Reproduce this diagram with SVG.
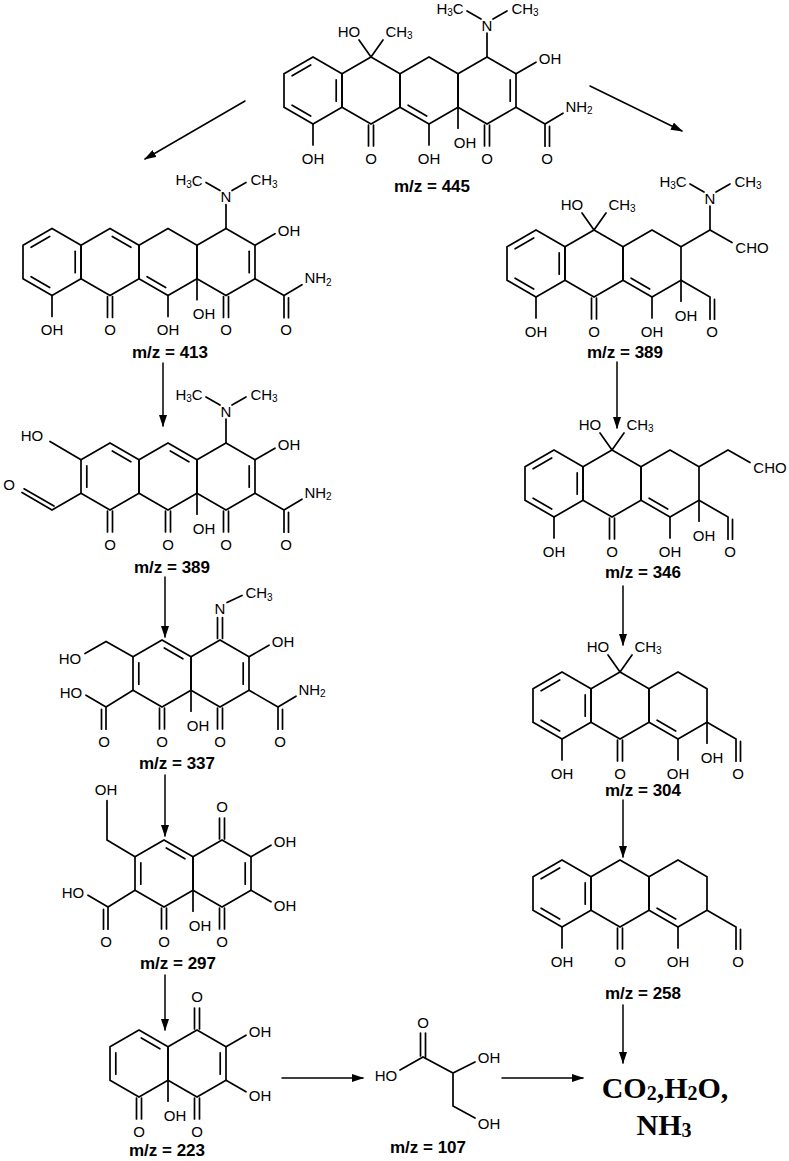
<svg xmlns="http://www.w3.org/2000/svg" xmlns:xlink="http://www.w3.org/1999/xlink" width="789" height="1161" viewBox="0 0 789 1161">
<style>
path,line{stroke:#000;stroke-width:1.7;fill:none;stroke-linecap:round}
text{font-family:"Liberation Sans",Arial,sans-serif;font-size:15px;text-anchor:middle;dominant-baseline:central;fill:#000}
.s{font-size:10px}
.mz{font-weight:bold;font-size:17px}
.big{font-family:"Liberation Serif","Times New Roman",serif;font-weight:bold;font-size:30px}
.ar{stroke-width:1.5}
</style>
<defs>
<marker id="ah" viewBox="0 0 12 8" refX="11" refY="4" markerWidth="12" markerHeight="8" markerUnits="userSpaceOnUse" orient="auto"><path d="M0,0L12,4L0,8Z" style="fill:#000;stroke:none"/></marker>
<path id="hx" d="M0,-33.5L29,-16.75L29,16.75L0,33.5L-29,16.75L-29,-16.75Z"/>
<path id="dUT" d="M-20.9,-14.7L-2.3,-25.5"/>
<path id="dTR" d="M2.3,-25.5L20.9,-14.7"/>
<path id="dR" d="M23.2,-10.7L23.2,10.7"/>
<path id="dBL" d="M-2.3,25.5L-20.9,14.7"/>
<path id="dL" d="M-23.2,10.7L-23.2,-10.7"/>
<g id="co"><path d="M-2.5,1V22M2.5,1V22"/><text y="34">O</text></g>
<g id="cou"><path d="M-2.5,-1V-22M2.5,-1V-22"/><text y="-34">O</text></g>
<g id="ohd"><path d="M0,0V21"/><text y="34">OH</text></g>
<g id="ohf"><path d="M0,0V21"/><text x="7" y="35">OH</text></g>
<g id="hoch3"><path d="M0,0L-12,-17M0,0L12,-17"/><text x="-22" y="-26">HO</text><text x="28" y="-26">CH<tspan class="s" dy="4">3</tspan></text></g>
<g id="nme2"><path d="M0,0V-24M-6,-38L-20,-46M6,-38L20,-46"/><text y="-32">N</text><text x="-37" y="-49">H<tspan class="s" dy="4">3</tspan><tspan dy="-4">C</tspan></text><text x="38" y="-49">CH<tspan class="s" dy="4">3</tspan></text></g>
<g id="ohur"><path d="M0,0L20,-11.5"/><text x="34" y="-15">OH</text></g>
<g id="ohdr"><path d="M0,0L20,11.5"/><text x="34" y="15">OH</text></g>
<g id="conh2"><path d="M0,0L29,16.75L47,6M29,16.75V39M33.5,19V39"/><text x="63" y="-1">NH<tspan class="s" dy="4">2</tspan></text><text x="31" y="51">O</text></g>
<g id="cooh"><path d="M0,0L-27,16.75L-47,5M-27,16.75V39M-31.5,19V39"/><text x="-62" y="2">HO</text><text x="-29" y="51">O</text></g>
<g id="cho"><path d="M0,0L29,16.75V39M33.5,19V39"/><text x="31" y="51">O</text></g>
<g id="qoh"><path d="M0,0V21"/><text x="5" y="35">OH</text></g>
</defs>

<g id="connectors">
<line class="ar" x1="245" y1="101" x2="145" y2="159" marker-end="url(#ah)"/>
<line class="ar" x1="590" y1="86" x2="682" y2="131" marker-end="url(#ah)"/>
<line class="ar" x1="163" y1="363" x2="163" y2="426" marker-end="url(#ah)"/>
<line class="ar" x1="165" y1="577" x2="165" y2="637" marker-end="url(#ah)"/>
<line class="ar" x1="165" y1="775" x2="165" y2="836" marker-end="url(#ah)"/>
<line class="ar" x1="165" y1="975" x2="165" y2="1030" marker-end="url(#ah)"/>
<line class="ar" x1="617" y1="362" x2="617" y2="428" marker-end="url(#ah)"/>
<line class="ar" x1="623" y1="586" x2="623" y2="645" marker-end="url(#ah)"/>
<line class="ar" x1="623" y1="800" x2="623" y2="857" marker-end="url(#ah)"/>
<line class="ar" x1="623" y1="1005" x2="623" y2="1063" marker-end="url(#ah)"/>
<line class="ar" x1="282" y1="1078" x2="363" y2="1078" marker-end="url(#ah)"/>
<line class="ar" x1="502" y1="1078" x2="583" y2="1078" marker-end="url(#ah)"/>
</g>

<g id="m445" transform="translate(313,90.5)">
<use href="#hx"/><use href="#hx" x="58"/><use href="#hx" x="116"/><use href="#hx" x="174"/>
<use href="#dUT"/><use href="#dR"/><use href="#dBL"/><use href="#dBL" x="116"/><use href="#dR" x="174"/>
<use href="#ohd" y="33.5"/><use href="#hoch3" x="58" y="-33.5"/><use href="#co" x="58" y="33.5"/><use href="#ohd" x="116" y="33.5"/>
<use href="#ohf" x="145" y="16.75"/><use href="#co" x="174" y="33.5"/><use href="#nme2" x="174" y="-33.5"/>
<use href="#ohur" x="203" y="-16.75"/><use href="#conh2" x="203" y="16.75"/>
</g>
<text class="mz" x="432" y="186">m/z = 445</text>

<g id="m413" transform="translate(52,262)">
<use href="#hx"/><use href="#hx" x="58"/><use href="#hx" x="116"/><use href="#hx" x="174"/>
<use href="#dUT"/><use href="#dR"/><use href="#dBL"/><use href="#dTR" x="58"/><use href="#dBL" x="116"/><use href="#dR" x="174"/>
<use href="#ohd" y="33.5"/><use href="#co" x="58" y="33.5"/><use href="#ohd" x="116" y="33.5"/>
<use href="#ohf" x="145" y="16.75"/><use href="#co" x="174" y="33.5"/><use href="#nme2" x="174" y="-33.5"/>
<use href="#ohur" x="203" y="-16.75"/><use href="#conh2" x="203" y="16.75"/>
</g>
<text class="mz" x="170" y="352">m/z = 413</text>

<g id="m389a" transform="translate(110,476.5)">
<use href="#hx"/><use href="#hx" x="58"/><use href="#hx" x="116"/>
<use href="#dTR"/><use href="#dL"/><use href="#dTR" x="58"/><use href="#dR" x="116"/>
<path d="M-29,-16.75L-60,-35M-29,16.75L-58,33.5L-88,16M-56,29.6L-86,12.3"/>
<text x="-78" y="-41">HO</text><text x="-101" y="8">O</text>
<use href="#co" y="33.5"/><use href="#co" x="58" y="33.5"/><use href="#ohf" x="87" y="16.75"/><use href="#co" x="116" y="33.5"/>
<use href="#nme2" x="116" y="-33.5"/><use href="#ohur" x="145" y="-16.75"/><use href="#conh2" x="145" y="16.75"/>
</g>
<text class="mz" x="172" y="567">m/z = 389</text>

<g id="m337" transform="translate(162,673.5)">
<use href="#hx"/><use href="#hx" x="58"/>
<use href="#dTR"/><use href="#dL"/><use href="#dR" x="58"/>
<path d="M55.5,-35V-56M60.5,-35V-56M65,-71L80,-78M-29,-16.75L-56,-32L-77,-20"/>
<text x="58" y="-65">N</text><text x="97" y="-81">CH<tspan class="s" dy="4">3</tspan></text><text x="-92" y="-15">HO</text>
<use href="#ohur" x="87" y="-16.75"/><use href="#conh2" x="87" y="16.75"/>
<use href="#cooh" x="-29" y="16.75"/><use href="#co" y="33.5"/><use href="#ohf" x="29" y="16.75"/><use href="#co" x="58" y="33.5"/>
</g>
<text class="mz" x="177" y="763">m/z = 337</text>

<g id="m297" transform="translate(164,873.5)">
<use href="#hx"/><use href="#hx" x="58"/>
<use href="#dTR"/><use href="#dL"/><use href="#dR" x="58"/>
<path d="M-29,-16.75L-57,-33.5V-73"/><text x="-58" y="-84">OH</text>
<use href="#cou" x="58" y="-33.5"/><use href="#ohur" x="87" y="-16.75"/><use href="#ohdr" x="87" y="16.75"/>
<use href="#cooh" x="-29" y="16.75"/><use href="#co" y="33.5"/><use href="#ohf" x="29" y="16.75"/><use href="#co" x="58" y="33.5"/>
</g>
<text class="mz" x="178" y="963">m/z = 297</text>

<g id="m223" transform="translate(139,1063.5)">
<use href="#hx"/><use href="#hx" x="58"/>
<use href="#dTR"/><use href="#dL"/><use href="#dR" x="58"/>
<use href="#co" y="33.5"/><use href="#ohf" x="29" y="16.75"/><use href="#co" x="58" y="33.5"/>
<use href="#cou" x="58" y="-33.5"/><use href="#ohur" x="87" y="-16.75"/><use href="#ohdr" x="87" y="16.75"/>
</g>
<text class="mz" x="167" y="1150">m/z = 223</text>

<g id="m389b" transform="translate(536,263.5)">
<use href="#hx"/><use href="#hx" x="58"/><use href="#hx" x="116"/>
<use href="#dUT"/><use href="#dR"/><use href="#dBL"/><use href="#dBL" x="116"/>
<use href="#ohd" y="33.5"/><use href="#hoch3" x="58" y="-33.5"/><use href="#co" x="58" y="33.5"/><use href="#ohd" x="116" y="33.5"/>
<use href="#qoh" x="145" y="16.75"/><use href="#cho" x="145" y="16.75"/>
<path d="M145,-16.75L174,-33.5L196,-21"/><use href="#nme2" x="174" y="-33.5"/><text x="216" y="-16">CHO</text>
</g>
<text class="mz" x="625" y="352">m/z = 389</text>

<g id="m346" transform="translate(554,483.5)">
<use href="#hx"/><use href="#hx" x="58"/><use href="#hx" x="116"/>
<use href="#dUT"/><use href="#dR"/><use href="#dBL"/><use href="#dBL" x="116"/>
<use href="#ohd" y="33.5"/><use href="#hoch3" x="58" y="-33.5"/><use href="#co" x="58" y="33.5"/><use href="#ohd" x="116" y="33.5"/>
<use href="#qoh" x="145" y="16.75"/><use href="#cho" x="145" y="16.75"/>
<path d="M145,-16.75L174,-33.5L196,-21"/><text x="216" y="-16">CHO</text>
</g>
<text class="mz" x="643" y="572">m/z = 346</text>

<g id="m304" transform="translate(562,705.5)">
<use href="#hx"/><use href="#hx" x="58"/><use href="#hx" x="116"/>
<use href="#dUT"/><use href="#dR"/><use href="#dBL"/><use href="#dBL" x="116"/>
<use href="#ohd" y="33.5"/><use href="#hoch3" x="58" y="-33.5"/><use href="#co" x="58" y="33.5"/><use href="#ohd" x="116" y="33.5"/>
<use href="#qoh" x="145" y="16.75"/><use href="#cho" x="145" y="16.75"/>
</g>
<text class="mz" x="643" y="790">m/z = 304</text>

<g id="m258" transform="translate(562,893.5)">
<use href="#hx"/><use href="#hx" x="58"/><use href="#hx" x="116"/>
<use href="#dUT"/><use href="#dR"/><use href="#dBL"/><use href="#dBL" x="116"/>
<use href="#ohd" y="33.5"/><use href="#co" x="58" y="33.5"/><use href="#ohd" x="116" y="33.5"/>
<use href="#cho" x="145" y="16.75"/>
</g>
<text class="mz" x="643" y="993">m/z = 258</text>

<g id="m107">
<path d="M423,1057L400,1070M423,1057L453,1073L475,1062M453,1073V1106L475,1118M420.5,1056V1033M425.5,1058V1033"/>
<text x="423" y="1022">O</text><text x="386" y="1075">HO</text><text x="489" y="1057">OH</text><text x="489" y="1123">OH</text>
</g>
<text class="mz" x="428" y="1147">m/z = 107</text>

<g id="products">
<text class="big" x="665" y="1087">CO<tspan font-size="20" dy="6">2</tspan><tspan dy="-6">,H</tspan><tspan font-size="20" dy="6">2</tspan><tspan dy="-6">O,</tspan></text>
<text class="big" x="664" y="1124">NH<tspan font-size="20" dy="6">3</tspan></text>
</g>
</svg>
